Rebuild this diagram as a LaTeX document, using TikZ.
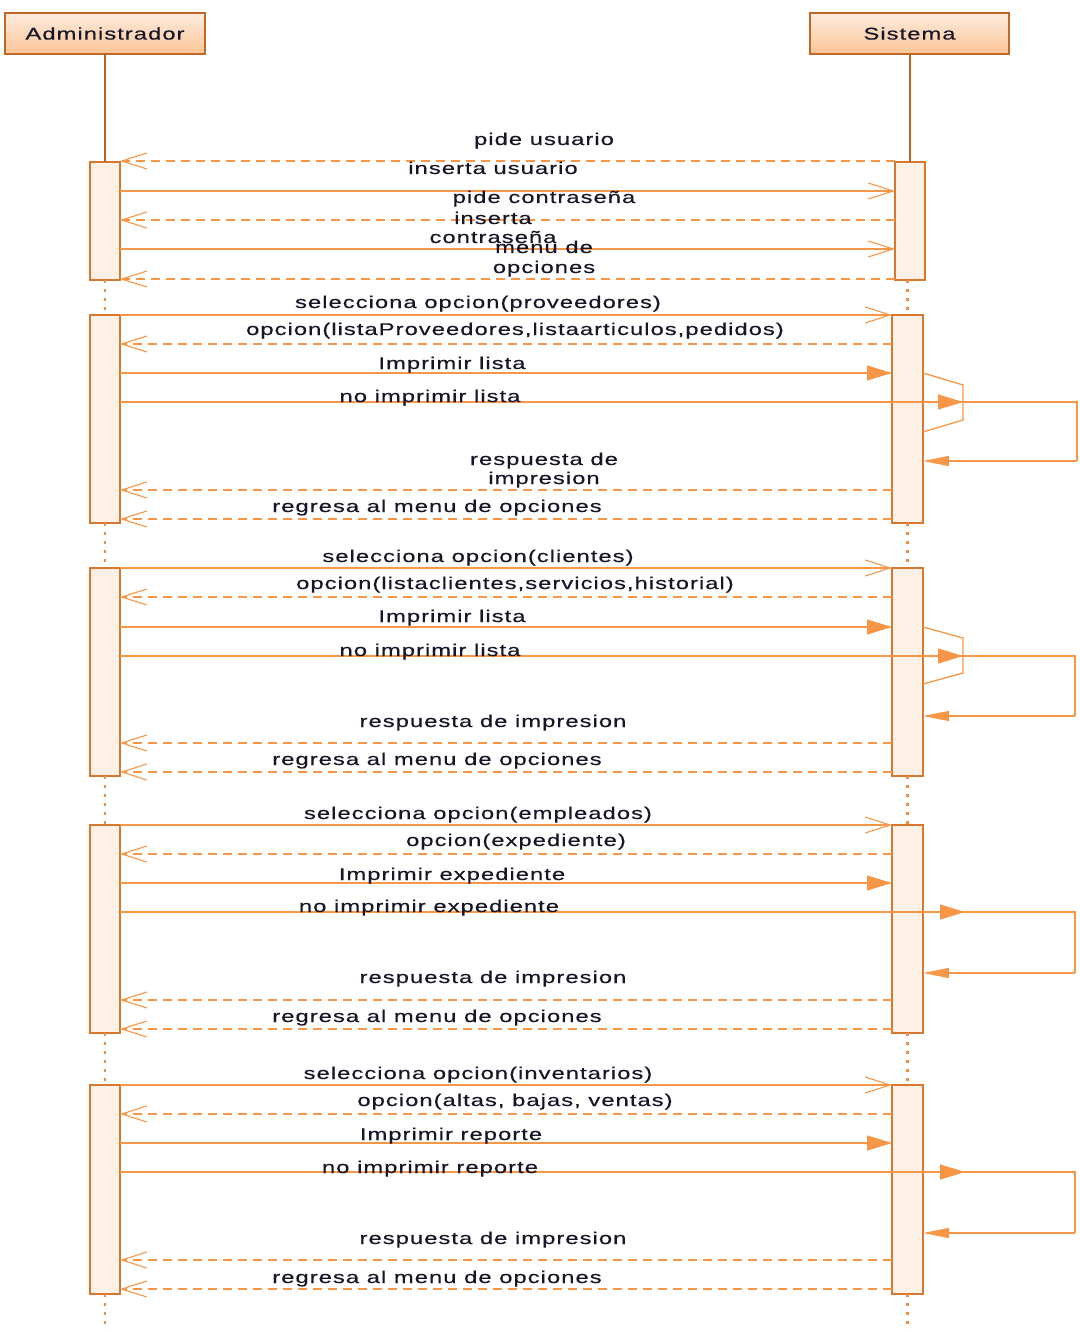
\documentclass[tikz,border=0pt]{standalone}
\usepackage{fontspec}
\setmainfont{Liberation Sans}
\newfontfamily\lblfont[FakeStretch=1.4,LetterSpace=6,FakeBold=0.4]{Liberation Sans}
\usetikzlibrary{arrows.meta,calc}
\definecolor{arrowc}{RGB}{247,150,70}
\definecolor{actborder}{RGB}{214,120,48}
\definecolor{actfill}{RGB}{253,240,228}
\definecolor{headtop}{RGB}{253,236,222}
\definecolor{headbot}{RGB}{250,196,150}
\definecolor{headborder}{RGB}{192,104,40}
\definecolor{lifec}{RGB}{184,101,30}
\definecolor{dotc}{RGB}{240,140,70}
\definecolor{txt}{RGB}{22,22,40}
\tikzset{
  actor/.style={draw=headborder, line width=1.5pt, top color=headtop, bottom color=headbot,
    minimum height=41pt, inner sep=0pt, outer sep=0pt, font=\lblfont\fontsize{17}{20}\selectfont, text=txt},
  actbox/.style={draw=actborder, line width=1.5pt, fill=actfill, minimum width=30pt,
    inner sep=0pt, outer sep=0pt, anchor=north west},
  lbl/.style={font=\lblfont\fontsize{17}{20}\selectfont, text=txt, inner sep=0pt, anchor=base},
  lifeline/.style={draw=lifec, line width=1.6pt},
  dotline/.style={draw=dotc, line width=2.6pt, dash pattern=on 2.6pt off 6.4pt},
  callmsg/.style={draw=arrowc, line width=1.1pt, -{Straight Barb[length=25pt,width=16pt,line width=1.1pt]}},
  replymsg/.style={callmsg, dash pattern=on 9pt off 6pt},
  syncmsg/.style={draw=arrowc, line width=1.1pt, -{Triangle[length=25pt,width=15pt]}},
  loopline/.style={draw=arrowc, line width=1.3pt},
  retmsg/.style={draw=arrowc, line width=1.3pt, -{Triangle[length=26pt,width=10pt]}},
}
\begin{document}
\begin{tikzpicture}[x=1pt,y=-1pt]
\useasboundingbox (0,0) rectangle (1079,1332);
% actors
\node[actor, minimum width=200pt] (admin) at (105,33.5) {Administrador};
\node[actor, minimum width=199pt] (sis) at (909.5,33.5) {Sistema};
% activation boxes
\node[actbox, minimum height=118pt] (a0) at (90,162) {};
\node[actbox, minimum height=118pt] (s0) at (895,162) {};
\node[actbox, minimum height=208pt] (a1) at (90,315) {};
\node[actbox, minimum height=208pt, minimum width=31pt] (s1) at (892,315) {};
\node[actbox, minimum height=208pt] (a2) at (90,568) {};
\node[actbox, minimum height=208pt, minimum width=31pt] (s2) at (892,568) {};
\node[actbox, minimum height=208pt] (a3) at (90,825) {};
\node[actbox, minimum height=208pt, minimum width=31pt] (s3) at (892,825) {};
\node[actbox, minimum height=209pt] (a4) at (90,1085) {};
\node[actbox, minimum height=209pt, minimum width=31pt] (s4) at (892,1085) {};
% lifelines
\draw[lifeline] (admin.south) -- (a0.north);
\draw[lifeline] (s0.north |- sis.south) -- (s0.north);
\draw[dotline] (a0.south) -- (a1.north);
\draw[dotline] (a1.south) -- (a2.north);
\draw[dotline] (a2.south) -- (a3.north);
\draw[dotline] (a3.south) -- (a4.north);
\draw[dotline] (s1.north |- s0.south) -- (s1.north);
\draw[dotline] (s1.south) -- (s2.north);
\draw[dotline] (s2.south) -- (s3.north);
\draw[dotline] (s3.south) -- (s4.north);
\coordinate (aend) at (104,1330);
\coordinate (send) at (907,1330);
\draw[dotline] (a4.south) -- (a4.south |- aend);
\draw[dotline] (s4.south) -- (s4.south |- send);

% ---------- block 0 ----------
\coordinate (m01) at (0,161);
\coordinate (m02) at (0,191);
\coordinate (m03) at (0,220);
\coordinate (m04) at (0,249);
\coordinate (m05) at (0,279);
\draw[replymsg] (s0.west |- m01) -- (a0.east |- m01);
\draw[callmsg] (a0.east |- m02) -- (s0.west |- m02);
\draw[replymsg] (s0.west |- m03) -- (a0.east |- m03);
\draw[callmsg] (a0.east |- m04) -- (s0.west |- m04);
\draw[replymsg] (s0.west |- m05) -- (a0.east |- m05);
\node[lbl] (l01) at (544,145) {pide usuario};
\node[lbl] (l02) at (493,174) {inserta usuario};
\node[lbl] (l03) at (544,203) {pide contraseña};
\node[lbl] (l04) at (493,224) {inserta};
\node[lbl] (l04b) at (493,243) {contraseña};
\node[lbl] (l05) at (544,253) {menu de};
\node[lbl] (l05b) at (544,273) {opciones};

% ---------- block 1 ----------
\coordinate (m11) at (0,315);
\coordinate (m12) at (0,344);
\coordinate (m13) at (0,373);
\coordinate (t1) at (963,402);
\coordinate (c1a) at (1077,402);
\coordinate (c1b) at (1077,461);
\coordinate (p1a) at (963,385);
\coordinate (p1b) at (963,420);
\coordinate (q1) at (0,432);
\coordinate (m15) at (0,490);
\coordinate (m16) at (0,519);
\draw[callmsg] (a1.east |- m11) -- (s1.west |- m11);
\draw[replymsg] (s1.west |- m12) -- (a1.east |- m12);
\draw[syncmsg] (a1.east |- m13) -- (s1.west |- m13);
\draw[loopline] (s1.east |- m13) -- (p1a) -- (p1b) -- (s1.east |- q1);
\draw[loopline] (a1.east |- t1) -- (c1a) -- (c1b);
\draw[syncmsg] (a1.east |- t1) -- (t1);
\draw[retmsg] (c1b) -- (s1.east |- c1b);
\draw[replymsg] (s1.west |- m15) -- (a1.east |- m15);
\draw[replymsg] (s1.west |- m16) -- (a1.east |- m16);
\node[lbl] (l11) at (478,308) {selecciona opcion(proveedores)};
\node[lbl] (l12) at (515,335) {opcion(listaProveedores,listaarticulos,pedidos)};
\node[lbl] (l13) at (452,369) {Imprimir lista};
\node[lbl] (l14) at (430,402) {no imprimir lista};
\node[lbl] (l15) at (544,465) {respuesta de};
\node[lbl] (l15b) at (544,484) {impresion};
\node[lbl] (l16) at (437,512) {regresa al menu de opciones};

% ---------- block 2 ----------
\coordinate (m21) at (0,568);
\coordinate (m22) at (0,597);
\coordinate (m23) at (0,627);
\coordinate (t2) at (963,656);
\coordinate (c2a) at (1075,656);
\coordinate (c2b) at (1075,716);
\coordinate (p2a) at (963,638);
\coordinate (p2b) at (963,673);
\coordinate (q2) at (0,684);
\coordinate (m25) at (0,743);
\coordinate (m26) at (0,772);
\draw[callmsg] (a2.east |- m21) -- (s2.west |- m21);
\draw[replymsg] (s2.west |- m22) -- (a2.east |- m22);
\draw[syncmsg] (a2.east |- m23) -- (s2.west |- m23);
\draw[loopline] (s2.east |- m23) -- (p2a) -- (p2b) -- (s2.east |- q2);
\draw[loopline] (a2.east |- t2) -- (c2a) -- (c2b);
\draw[syncmsg] (a2.east |- t2) -- (t2);
\draw[retmsg] (c2b) -- (s2.east |- c2b);
\draw[replymsg] (s2.west |- m25) -- (a2.east |- m25);
\draw[replymsg] (s2.west |- m26) -- (a2.east |- m26);
\node[lbl] (l21) at (478,562) {selecciona opcion(clientes)};
\node[lbl] (l22) at (515,589) {opcion(listaclientes,servicios,historial)};
\node[lbl] (l23) at (452,622) {Imprimir lista};
\node[lbl] (l24) at (430,656) {no imprimir lista};
\node[lbl] (l25) at (493,727) {respuesta de impresion};
\node[lbl] (l26) at (437,765) {regresa al menu de opciones};

% ---------- block 3 ----------
\coordinate (m31) at (0,825);
\coordinate (m32) at (0,854);
\coordinate (m33) at (0,883);
\coordinate (t3) at (965,912);
\coordinate (c3a) at (1075,912);
\coordinate (c3b) at (1075,973);
\coordinate (m35) at (0,1000);
\coordinate (m36) at (0,1029);
\draw[callmsg] (a3.east |- m31) -- (s3.west |- m31);
\draw[replymsg] (s3.west |- m32) -- (a3.east |- m32);
\draw[syncmsg] (a3.east |- m33) -- (s3.west |- m33);
\draw[loopline] (a3.east |- t3) -- (c3a) -- (c3b);
\draw[syncmsg] (a3.east |- t3) -- (t3);
\draw[retmsg] (c3b) -- (s3.east |- c3b);
\draw[replymsg] (s3.west |- m35) -- (a3.east |- m35);
\draw[replymsg] (s3.west |- m36) -- (a3.east |- m36);
\node[lbl] (l31) at (478,819) {selecciona opcion(empleados)};
\node[lbl] (l32) at (516,846) {opcion(expediente)};
\node[lbl] (l33) at (452,880) {Imprimir expediente};
\node[lbl] (l34) at (429,912) {no imprimir expediente};
\node[lbl] (l35) at (493,983) {respuesta de impresion};
\node[lbl] (l36) at (437,1022) {regresa al menu de opciones};

% ---------- block 4 ----------
\coordinate (m41) at (0,1085);
\coordinate (m42) at (0,1114);
\coordinate (m43) at (0,1143);
\coordinate (t4) at (965,1172);
\coordinate (c4a) at (1075,1172);
\coordinate (c4b) at (1075,1233);
\coordinate (m45) at (0,1260);
\coordinate (m46) at (0,1289);
\draw[callmsg] (a4.east |- m41) -- (s4.west |- m41);
\draw[replymsg] (s4.west |- m42) -- (a4.east |- m42);
\draw[syncmsg] (a4.east |- m43) -- (s4.west |- m43);
\draw[loopline] (a4.east |- t4) -- (c4a) -- (c4b);
\draw[syncmsg] (a4.east |- t4) -- (t4);
\draw[retmsg] (c4b) -- (s4.east |- c4b);
\draw[replymsg] (s4.west |- m45) -- (a4.east |- m45);
\draw[replymsg] (s4.west |- m46) -- (a4.east |- m46);
\node[lbl] (l41) at (478,1079) {selecciona opcion(inventarios)};
\node[lbl] (l42) at (515,1106) {opcion(altas, bajas, ventas)};
\node[lbl] (l43) at (451,1140) {Imprimir reporte};
\node[lbl] (l44) at (430,1173) {no imprimir reporte};
\node[lbl] (l45) at (493,1244) {respuesta de impresion};
\node[lbl] (l46) at (437,1283) {regresa al menu de opciones};
\end{tikzpicture}
\end{document}
